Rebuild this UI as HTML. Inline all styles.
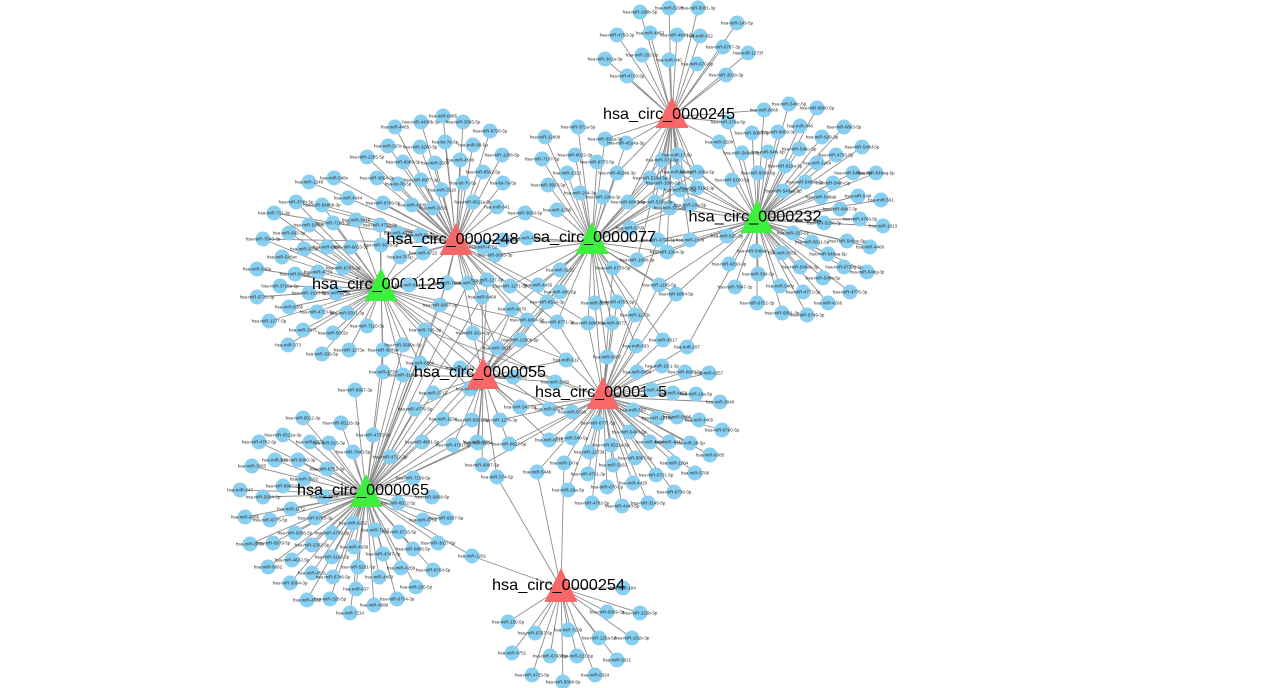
<!DOCTYPE html>
<html><head><meta charset="utf-8"><style>
html,body{margin:0;padding:0;background:#fff;width:1265px;height:688px;overflow:hidden}
svg{display:block}
.e{fill:none;stroke:#8c8c8c;stroke-width:0.9}
.n circle{fill:#89CFF0;r:7.5px}
.t text{font-family:"Liberation Sans",sans-serif;font-size:4.5px;fill:#2a2a2a;text-anchor:middle}
.h text{font-family:"Liberation Sans",sans-serif;font-size:16px;fill:#000;text-anchor:middle}
</style></head><body>
<svg width="1265" height="688" viewBox="0 0 1265 688" xmlns="http://www.w3.org/2000/svg">
<rect width="1265" height="688" fill="#fff"/>
<!-- edges -->
<path class="e" d="M672 117L640 12M672 117L669 8M672 117L698 8M672 117L737 23M672 117L617 35M672 117L650 33M672 117L677 35M672 117L700 36M672 117L723 47M672 117L748 53M672 117L642 55M672 117L669 60M672 117L697 64M672 117L605 59M672 117L627 76M672 117L726 75M672 117L662 160M672 117L650 178M672 117L663 183M672 117L677 172M672 117L697 172M672 117L697 188M672 117L680 190M672 117L690 205M672 117L670 208M672 117L655 202M672 117L628 202M672 117L677 155M672 117L626 143M672 117L605 139M672 117L617 173M672 117L658 240M672 117L690 240M672 117L667 252M672 117L637 260M672 117L728 122M672 117L719 142M672 117L764 110"/>
<path class="e" d="M757 220L764 110M757 220L789 104M757 220L817 108M757 220L728 122M757 220L752 133M757 220L778 132M757 220L800 126M757 220L844 127M757 220L719 142M757 220L822 137M757 220L742 153M757 220L768 152M757 220L799 149M757 220L836 155M757 220L862 147M757 220L785 166M757 220L817 163M757 220L758 173M757 220L732 180M757 220L805 182M757 220L833 183M757 220L853 173M757 220L876 173M757 220L783 191M757 220L821 197M757 220L858 196M757 220L881 200M757 220L840 209M757 220L824 223M757 220L860 219M757 220L883 226M757 220L793 233M757 220L727 236M757 220L812 242M757 220L847 241M757 220L870 247M757 220L756 251M757 220L782 253M757 220L828 254M757 220L729 264M757 220L800 267M757 220L844 267M757 220L867 272M757 220L823 278M757 220L758 274M757 220L735 287M757 220L780 286M757 220L803 292M757 220L850 292M757 220L757 303M757 220L828 303M757 220L782 313M757 220L807 315M757 220L677 155M757 220L663 183M757 220L677 172M757 220L697 172M757 220L697 188M757 220L680 190M757 220L690 205M757 220L670 208M757 220L658 240M757 220L690 240M757 220L667 252M757 220L637 260M757 220L659 285M757 220L676 294M757 220L687 347"/>
<path class="e" d="M592 242L578 127M592 242L545 137M592 242L605 139M592 242L626 143M592 242L575 155M592 242L542 159M592 242L597 162M592 242L567 173M592 242L617 173M592 242L548 185M592 242L525 213M592 242L557 210M592 242L527 238M592 242L560 270M592 242L560 292M592 242L538 285M592 242L510 286M592 242L595 303M592 242L617 302M592 242L547 302M592 242L588 323M592 242L612 323M592 242L557 322M592 242L635 315M592 242L580 193M592 242L603 197M592 242L628 202M592 242L655 202M592 242L630 228M592 242L658 240M592 242L690 240M592 242L667 252M592 242L637 260M592 242L613 268M592 242L659 285M592 242L676 294M592 242L662 160M592 242L650 178M592 242L663 183M592 242L697 172M592 242L680 190M592 242L690 205M592 242L670 208M592 242L677 155M592 242L503 240M592 242L495 255M592 242L520 340M592 242L607 357M592 242L636 346M592 242L663 340M592 242L512 309M592 242L527 320"/>
<path class="e" d="M456 243L443 116M456 243L395 127M456 243L421 122M456 243L463 122M456 243L490 131M456 243L445 142M456 243L473 145M456 243L388 146M456 243L420 147M456 243L367 157M456 243L403 162M456 243L435 163M456 243L460 160M456 243L502 155M456 243L483 172M456 243L463 183M456 243L503 183M456 243L309 182M456 243L334 178M456 243L377 178M456 243L398 184M456 243L421 180M456 243L442 190M456 243L473 202M456 243L497 207M456 243L296 202M456 243L322 205M456 243L348 198M456 243L383 203M456 243L412 205M456 243L433 208M456 243L356 220M456 243L380 225M456 243L398 233M456 243L420 235M456 243L495 255M456 243L483 247M456 243L503 240M456 243L423 253M456 243L400 257M456 243L447 283M456 243L468 283M456 243L487 280M456 243L482 297M456 243L512 309M456 243L440 305M456 243L525 213M456 243L527 238M456 243L510 286M456 243L538 285M456 243L409 285M456 243L557 322M456 243L588 323M456 243L566 360M456 243L473 333M456 243L497 348M456 243L274 213M456 243L263 239"/>
<path class="e" d="M381 288L274 213M381 288L309 225M381 288L333 223M381 288L289 233M381 288L263 239M381 288L304 249M381 288L327 247M381 288L351 247M381 288L381 245M381 288L282 257M381 288L257 269M381 288L295 274M381 288L318 272M381 288L343 268M381 288L280 286M381 288L257 297M381 288L309 293M381 288L336 293M381 288L289 307M381 288L317 312M381 288L347 313M381 288L269 321M381 288L367 326M381 288L303 330M381 288L333 333M381 288L288 345M381 288L349 350M381 288L322 354M381 288L383 350M381 288L403 345M381 288L425 330M381 288L409 285M381 288L420 363M381 288L383 372M381 288L403 375M381 288L356 220M381 288L380 225M381 288L423 253M381 288L400 257M381 288L447 283M381 288L468 283M381 288L440 305M381 288L470 389M381 288L527 320M381 288L566 360M381 288L555 382M381 288L549 409M381 288L520 407M381 288L296 202M381 288L322 205"/>
<path class="e" d="M483 377L473 333M483 377L520 340M483 377L497 348M483 377L513 377M483 377L520 407M483 377L500 420M483 377L472 420M483 377L478 443M483 377L509 444M483 377L482 465M483 377L497 477M483 377L433 393M483 377L443 419M483 377L470 389M483 377L415 409M483 377L460 368M483 377L555 382M483 377L566 360M483 377L572 412M483 377L549 440M483 377L383 350M483 377L420 363M483 377L403 375M483 377L487 280M483 377L482 297M483 377L512 309M483 377L527 320M483 377L547 302M483 377L560 292M483 377L557 322M483 377L453 445M483 377L477 442"/>
<path class="e" d="M603 397L607 357M603 397L636 346M603 397L663 340M603 397L687 347M603 397L637 372M603 397L662 366M603 397L685 372M603 397L709 373M603 397L652 390M603 397L673 393M603 397L696 394M603 397L720 402M603 397L549 409M603 397L572 412M603 397L633 410M603 397L657 418M603 397L677 417M603 397L699 420M603 397L722 430M603 397L598 423M603 397L629 432M603 397L650 442M603 397L669 442M603 397L690 443M603 397L710 455M603 397L549 440M603 397L572 438M603 397L611 445M603 397L589 452M603 397L635 458M603 397L674 463M603 397L564 463M603 397L537 472M603 397L613 465M603 397L656 475M603 397L695 473M603 397L588 474M603 397L633 483M603 397L607 487M603 397L568 490M603 397L674 492M603 397L592 503M603 397L622 506M603 397L648 503M603 397L566 360M603 397L555 382M603 397L520 407M603 397L500 420M603 397L509 444M603 397L482 465M603 397L595 303M603 397L617 302M603 397L588 323M603 397L612 323M603 397L557 322M603 397L635 315M603 397L613 268M603 397L659 285M603 397L676 294M603 397L658 240M603 397L425 330"/>
<path class="e" d="M366 494L355 390M366 494L303 418M366 494L341 423M366 494L283 435M366 494L259 442M366 494L310 442M366 494L329 443M366 494L373 435M366 494L422 442M366 494L453 445M366 494L353 452M366 494L252 466M366 494L275 460M366 494L298 460M366 494L390 457M366 494L327 469M366 494L304 479M366 494L413 478M366 494L283 486M366 494L240 490M366 494L263 497M366 494L324 497M366 494L398 503M366 494L432 497M366 494L291 509M366 494L245 517M366 494L270 520M366 494L315 518M366 494L353 523M366 494L423 520M366 494L446 518M366 494L295 533M366 494L332 533M366 494L375 530M366 494L399 532M366 494L250 544M366 494L273 543M366 494L312 545M366 494L354 547M366 494L383 554M366 494L413 549M366 494L438 543M366 494L472 556M366 494L292 560M366 494L332 557M366 494L268 567M366 494L312 573M366 494L358 567M366 494L401 568M366 494L433 570M366 494L290 583M366 494L333 577M366 494L379 577M366 494L416 587M366 494L356 589M366 494L307 600M366 494L330 599M366 494L397 599M366 494L374 605M366 494L350 613M366 494L415 409M366 494L477 442M366 494L425 330M366 494L403 345M366 494L420 363M366 494L383 372M366 494L403 375M366 494L433 393M366 494L443 419M366 494L472 420M366 494L478 443M366 494L440 305M366 494L447 283M366 494L468 283M366 494L527 320M366 494L512 309M366 494L482 297M366 494L383 350"/>
<path class="e" d="M561 588L472 556M561 588L623 588M561 588L607 612M561 588L640 613M561 588L508 622M561 588L535 633M561 588L568 630M561 588L599 638M561 588L632 638M561 588L512 653M561 588L550 656M561 588L577 656M561 588L617 660M561 588L532 675M561 588L563 682M561 588L595 675M561 588L497 477M561 588L537 472M561 588L564 463"/>

<!-- nodes -->
<g class="n">
<circle cx="640" cy="12" r="7"/><circle cx="669" cy="8" r="7"/><circle cx="698" cy="8" r="7"/><circle cx="737" cy="23" r="7"/><circle cx="617" cy="35" r="7"/><circle cx="650" cy="33" r="7"/><circle cx="677" cy="35" r="7"/><circle cx="700" cy="36" r="7"/><circle cx="723" cy="47" r="7"/><circle cx="748" cy="53" r="7"/><circle cx="642" cy="55" r="7"/><circle cx="669" cy="60" r="7"/><circle cx="697" cy="64" r="7"/><circle cx="605" cy="59" r="7"/><circle cx="627" cy="76" r="7"/><circle cx="726" cy="75" r="7"/>
<circle cx="677" cy="155" r="7"/><circle cx="662" cy="160" r="7"/><circle cx="650" cy="178" r="7"/><circle cx="663" cy="183" r="7"/><circle cx="677" cy="172" r="7"/><circle cx="697" cy="172" r="7"/><circle cx="697" cy="188" r="7"/><circle cx="680" cy="190" r="7"/><circle cx="690" cy="205" r="7"/><circle cx="670" cy="208" r="7"/><circle cx="655" cy="202" r="7"/><circle cx="628" cy="202" r="7"/><circle cx="603" cy="197" r="7"/><circle cx="580" cy="193" r="7"/><circle cx="658" cy="240" r="7"/><circle cx="690" cy="240" r="7"/><circle cx="667" cy="252" r="7"/><circle cx="637" cy="260" r="7"/><circle cx="630" cy="228" r="7"/><circle cx="613" cy="268" r="7"/><circle cx="676" cy="294" r="7"/><circle cx="659" cy="285" r="7"/>
<circle cx="764" cy="110" r="7"/><circle cx="789" cy="104" r="7"/><circle cx="817" cy="108" r="7"/><circle cx="728" cy="122" r="7"/><circle cx="752" cy="133" r="7"/><circle cx="778" cy="132" r="7"/><circle cx="800" cy="126" r="7"/><circle cx="844" cy="127" r="7"/><circle cx="719" cy="142" r="7"/><circle cx="822" cy="137" r="7"/><circle cx="742" cy="153" r="7"/><circle cx="768" cy="152" r="7"/><circle cx="799" cy="149" r="7"/><circle cx="836" cy="155" r="7"/><circle cx="862" cy="147" r="7"/><circle cx="785" cy="166" r="7"/><circle cx="817" cy="163" r="7"/><circle cx="758" cy="173" r="7"/><circle cx="732" cy="180" r="7"/><circle cx="805" cy="182" r="7"/><circle cx="833" cy="183" r="7"/><circle cx="853" cy="173" r="7"/><circle cx="876" cy="173" r="7"/><circle cx="783" cy="191" r="7"/><circle cx="821" cy="197" r="7"/><circle cx="858" cy="196" r="7"/><circle cx="881" cy="200" r="7"/><circle cx="840" cy="209" r="7"/><circle cx="824" cy="223" r="7"/><circle cx="860" cy="219" r="7"/><circle cx="883" cy="226" r="7"/><circle cx="793" cy="233" r="7"/><circle cx="727" cy="236" r="7"/><circle cx="812" cy="242" r="7"/><circle cx="847" cy="241" r="7"/><circle cx="870" cy="247" r="7"/><circle cx="756" cy="251" r="7"/><circle cx="782" cy="253" r="7"/><circle cx="828" cy="254" r="7"/><circle cx="729" cy="264" r="7"/><circle cx="800" cy="267" r="7"/><circle cx="844" cy="267" r="7"/><circle cx="867" cy="272" r="7"/><circle cx="823" cy="278" r="7"/><circle cx="758" cy="274" r="7"/><circle cx="735" cy="287" r="7"/><circle cx="780" cy="286" r="7"/><circle cx="803" cy="292" r="7"/><circle cx="850" cy="292" r="7"/><circle cx="757" cy="303" r="7"/><circle cx="828" cy="303" r="7"/><circle cx="782" cy="313" r="7"/><circle cx="807" cy="315" r="7"/>
<circle cx="578" cy="127" r="7"/><circle cx="545" cy="137" r="7"/><circle cx="605" cy="139" r="7"/><circle cx="626" cy="143" r="7"/><circle cx="575" cy="155" r="7"/><circle cx="542" cy="159" r="7"/><circle cx="597" cy="162" r="7"/><circle cx="567" cy="173" r="7"/><circle cx="617" cy="173" r="7"/><circle cx="548" cy="185" r="7"/><circle cx="525" cy="213" r="7"/><circle cx="557" cy="210" r="7"/><circle cx="560" cy="270" r="7"/><circle cx="560" cy="292" r="7"/><circle cx="538" cy="285" r="7"/><circle cx="510" cy="286" r="7"/><circle cx="595" cy="303" r="7"/><circle cx="617" cy="302" r="7"/><circle cx="547" cy="302" r="7"/><circle cx="588" cy="323" r="7"/><circle cx="612" cy="323" r="7"/><circle cx="557" cy="322" r="7"/><circle cx="635" cy="315" r="7"/><circle cx="527" cy="320" r="7"/>
<circle cx="443" cy="116" r="7"/><circle cx="395" cy="127" r="7"/><circle cx="421" cy="122" r="7"/><circle cx="463" cy="122" r="7"/><circle cx="490" cy="131" r="7"/><circle cx="445" cy="142" r="7"/><circle cx="473" cy="145" r="7"/><circle cx="388" cy="146" r="7"/><circle cx="420" cy="147" r="7"/><circle cx="367" cy="157" r="7"/><circle cx="403" cy="162" r="7"/><circle cx="435" cy="163" r="7"/><circle cx="460" cy="160" r="7"/><circle cx="502" cy="155" r="7"/><circle cx="483" cy="172" r="7"/><circle cx="463" cy="183" r="7"/><circle cx="503" cy="183" r="7"/><circle cx="309" cy="182" r="7"/><circle cx="334" cy="178" r="7"/><circle cx="377" cy="178" r="7"/><circle cx="398" cy="184" r="7"/><circle cx="421" cy="180" r="7"/><circle cx="442" cy="190" r="7"/><circle cx="473" cy="202" r="7"/><circle cx="497" cy="207" r="7"/><circle cx="296" cy="202" r="7"/><circle cx="322" cy="205" r="7"/><circle cx="348" cy="198" r="7"/><circle cx="383" cy="203" r="7"/><circle cx="412" cy="205" r="7"/><circle cx="433" cy="208" r="7"/><circle cx="356" cy="220" r="7"/><circle cx="380" cy="225" r="7"/><circle cx="398" cy="233" r="7"/><circle cx="420" cy="235" r="7"/><circle cx="495" cy="255" r="7"/><circle cx="483" cy="247" r="7"/><circle cx="503" cy="240" r="7"/><circle cx="423" cy="253" r="7"/><circle cx="400" cy="257" r="7"/><circle cx="447" cy="283" r="7"/><circle cx="468" cy="283" r="7"/><circle cx="487" cy="280" r="7"/><circle cx="482" cy="297" r="7"/><circle cx="512" cy="309" r="7"/><circle cx="440" cy="305" r="7"/>
<circle cx="274" cy="213" r="7"/><circle cx="309" cy="225" r="7"/><circle cx="333" cy="223" r="7"/><circle cx="289" cy="233" r="7"/><circle cx="263" cy="239" r="7"/><circle cx="304" cy="249" r="7"/><circle cx="327" cy="247" r="7"/><circle cx="351" cy="247" r="7"/><circle cx="381" cy="245" r="7"/><circle cx="282" cy="257" r="7"/><circle cx="257" cy="269" r="7"/><circle cx="295" cy="274" r="7"/><circle cx="318" cy="272" r="7"/><circle cx="343" cy="268" r="7"/><circle cx="280" cy="286" r="7"/><circle cx="257" cy="297" r="7"/><circle cx="309" cy="293" r="7"/><circle cx="336" cy="293" r="7"/><circle cx="289" cy="307" r="7"/><circle cx="317" cy="312" r="7"/><circle cx="347" cy="313" r="7"/><circle cx="269" cy="321" r="7"/><circle cx="367" cy="326" r="7"/><circle cx="303" cy="330" r="7"/><circle cx="333" cy="333" r="7"/><circle cx="288" cy="345" r="7"/><circle cx="349" cy="350" r="7"/><circle cx="322" cy="354" r="7"/><circle cx="383" cy="350" r="7"/><circle cx="403" cy="345" r="7"/><circle cx="425" cy="330" r="7"/><circle cx="420" cy="363" r="7"/><circle cx="383" cy="372" r="7"/><circle cx="403" cy="375" r="7"/><circle cx="460" cy="368" r="7"/>
<circle cx="473" cy="333" r="7"/><circle cx="520" cy="340" r="7"/><circle cx="497" cy="348" r="7"/><circle cx="513" cy="377" r="7"/><circle cx="520" cy="407" r="7"/><circle cx="500" cy="420" r="7"/><circle cx="472" cy="420" r="7"/><circle cx="478" cy="443" r="7"/><circle cx="509" cy="444" r="7"/><circle cx="482" cy="465" r="7"/><circle cx="497" cy="477" r="7"/><circle cx="433" cy="393" r="7"/><circle cx="443" cy="419" r="7"/><circle cx="470" cy="389" r="7"/><circle cx="415" cy="409" r="7"/><circle cx="555" cy="382" r="7"/><circle cx="566" cy="360" r="7"/><circle cx="453" cy="445" r="7"/><circle cx="477" cy="442" r="7"/>
<circle cx="607" cy="357" r="7"/><circle cx="636" cy="346" r="7"/><circle cx="663" cy="340" r="7"/><circle cx="687" cy="347" r="7"/><circle cx="637" cy="372" r="7"/><circle cx="662" cy="366" r="7"/><circle cx="685" cy="372" r="7"/><circle cx="709" cy="373" r="7"/><circle cx="673" cy="393" r="7"/><circle cx="696" cy="394" r="7"/><circle cx="720" cy="402" r="7"/><circle cx="549" cy="409" r="7"/><circle cx="572" cy="412" r="7"/><circle cx="633" cy="410" r="7"/><circle cx="657" cy="418" r="7"/><circle cx="677" cy="417" r="7"/><circle cx="699" cy="420" r="7"/><circle cx="722" cy="430" r="7"/><circle cx="598" cy="423" r="7"/><circle cx="629" cy="432" r="7"/><circle cx="650" cy="442" r="7"/><circle cx="669" cy="442" r="7"/><circle cx="690" cy="443" r="7"/><circle cx="710" cy="455" r="7"/><circle cx="549" cy="440" r="7"/><circle cx="572" cy="438" r="7"/><circle cx="611" cy="445" r="7"/><circle cx="589" cy="452" r="7"/><circle cx="635" cy="458" r="7"/><circle cx="674" cy="463" r="7"/><circle cx="564" cy="463" r="7"/><circle cx="537" cy="472" r="7"/><circle cx="613" cy="465" r="7"/><circle cx="656" cy="475" r="7"/><circle cx="695" cy="473" r="7"/><circle cx="588" cy="474" r="7"/><circle cx="633" cy="483" r="7"/><circle cx="607" cy="487" r="7"/><circle cx="568" cy="490" r="7"/><circle cx="674" cy="492" r="7"/><circle cx="592" cy="503" r="7"/><circle cx="622" cy="506" r="7"/><circle cx="648" cy="503" r="7"/>
<circle cx="355" cy="390" r="7"/><circle cx="303" cy="418" r="7"/><circle cx="341" cy="423" r="7"/><circle cx="283" cy="435" r="7"/><circle cx="259" cy="442" r="7"/><circle cx="310" cy="442" r="7"/><circle cx="329" cy="443" r="7"/><circle cx="373" cy="435" r="7"/><circle cx="422" cy="442" r="7"/><circle cx="353" cy="452" r="7"/><circle cx="252" cy="466" r="7"/><circle cx="275" cy="460" r="7"/><circle cx="298" cy="460" r="7"/><circle cx="390" cy="457" r="7"/><circle cx="327" cy="469" r="7"/><circle cx="304" cy="479" r="7"/><circle cx="413" cy="478" r="7"/><circle cx="283" cy="486" r="7"/><circle cx="240" cy="490" r="7"/><circle cx="263" cy="497" r="7"/><circle cx="324" cy="497" r="7"/><circle cx="398" cy="503" r="7"/><circle cx="432" cy="497" r="7"/><circle cx="291" cy="509" r="7"/><circle cx="245" cy="517" r="7"/><circle cx="270" cy="520" r="7"/><circle cx="315" cy="518" r="7"/><circle cx="353" cy="523" r="7"/><circle cx="423" cy="520" r="7"/><circle cx="446" cy="518" r="7"/><circle cx="295" cy="533" r="7"/><circle cx="332" cy="533" r="7"/><circle cx="375" cy="530" r="7"/><circle cx="399" cy="532" r="7"/><circle cx="250" cy="544" r="7"/><circle cx="273" cy="543" r="7"/><circle cx="312" cy="545" r="7"/><circle cx="354" cy="547" r="7"/><circle cx="383" cy="554" r="7"/><circle cx="413" cy="549" r="7"/><circle cx="438" cy="543" r="7"/><circle cx="472" cy="556" r="7"/><circle cx="292" cy="560" r="7"/><circle cx="332" cy="557" r="7"/><circle cx="268" cy="567" r="7"/><circle cx="312" cy="573" r="7"/><circle cx="358" cy="567" r="7"/><circle cx="401" cy="568" r="7"/><circle cx="433" cy="570" r="7"/><circle cx="290" cy="583" r="7"/><circle cx="333" cy="577" r="7"/><circle cx="379" cy="577" r="7"/><circle cx="416" cy="587" r="7"/><circle cx="356" cy="589" r="7"/><circle cx="307" cy="600" r="7"/><circle cx="330" cy="599" r="7"/><circle cx="397" cy="599" r="7"/><circle cx="374" cy="605" r="7"/><circle cx="350" cy="613" r="7"/>
<circle cx="623" cy="588" r="7"/><circle cx="607" cy="612" r="7"/><circle cx="640" cy="613" r="7"/><circle cx="508" cy="622" r="7"/><circle cx="535" cy="633" r="7"/><circle cx="568" cy="630" r="7"/><circle cx="599" cy="638" r="7"/><circle cx="632" cy="638" r="7"/><circle cx="512" cy="653" r="7"/><circle cx="550" cy="656" r="7"/><circle cx="577" cy="656" r="7"/><circle cx="617" cy="660" r="7"/><circle cx="532" cy="675" r="7"/><circle cx="563" cy="682" r="7"/><circle cx="595" cy="675" r="7"/>
</g>
<g class="t">
<text x="640" y="13.6">hsa-miR-190b-5p</text><text x="669" y="9.6">hsa-miR-5193</text><text x="698" y="9.6">hsa-miR-5001-3p</text><text x="737" y="24.6">hsa-miR-143-5p</text><text x="617" y="36.6">hsa-miR-4753-3p</text><text x="650" y="34.6">hsa-miR-4453</text><text x="677" y="36.6">hsa-miR-4646-5p</text><text x="700" y="37.6">hsa-miR-552</text><text x="723" y="48.6">hsa-miR-6787-3p</text><text x="748" y="54.6">hsa-miR-1273f</text><text x="642" y="56.6">hsa-miR-202-5p</text><text x="669" y="61.6">hsa-miR-940</text><text x="697" y="65.6">hsa-miR-670-5p</text><text x="605" y="60.6">hsa-miR-301a-3p</text><text x="627" y="77.6">hsa-miR-4720-5p</text><text x="726" y="76.6">hsa-miR-301b-3p</text>
<text x="677" y="156.6">hsa-miR-17-5p</text><text x="662" y="161.6">hsa-miR-372-3p</text><text x="650" y="179.6">hsa-miR-520d-5p</text><text x="663" y="184.6">hsa-miR-106b-5p</text><text x="677" y="173.6">hsa-miR-93-5p</text><text x="697" y="173.6">hsa-miR-106a-5p</text><text x="697" y="189.6">hsa-miR-519d-3p</text><text x="680" y="191.6">hsa-miR-20b-5p</text><text x="690" y="206.6">hsa-miR-20a-5p</text><text x="670" y="209.6">hsa-miR-373-3p</text><text x="655" y="203.6">hsa-miR-526b-3p</text><text x="628" y="203.6">hsa-miR-6849-3p</text><text x="603" y="198.6">hsa-miR-196a-3p</text><text x="580" y="194.6">hsa-miR-204-3p</text><text x="658" y="241.6">hsa-miR-4728-5p</text><text x="690" y="241.6">hsa-miR-2276</text><text x="667" y="253.6">hsa-miR-1304-3p</text><text x="637" y="261.6">hsa-miR-1908-3p</text><text x="630" y="229.6">hsa-miR-6799</text><text x="613" y="269.6">hsa-miR-6779-5p</text><text x="676" y="295.6">hsa-miR-6884-5p</text><text x="659" y="286.6">hsa-miR-1185-5p</text>
<text x="764" y="111.6">hsa-miR-8068</text><text x="789" y="105.6">hsa-miR-548c-5p</text><text x="817" y="109.6">hsa-miR-6880-5p</text><text x="728" y="123.6">hsa-miR-378a-5p</text><text x="752" y="134.6">hsa-miR-5088-3p</text><text x="778" y="133.6">hsa-miR-6809-3p</text><text x="800" y="127.6">hsa-miR-346</text><text x="844" y="128.6">hsa-miR-6863-5p</text><text x="719" y="143.6">hsa-miR-520h</text><text x="822" y="138.6">hsa-miR-629-3p</text><text x="742" y="154.6">hsa-miR-548ah-5p</text><text x="768" y="153.6">hsa-miR-548j-5p</text><text x="799" y="150.6">hsa-miR-548o-5p</text><text x="836" y="156.6">hsa-miR-4755-5p</text><text x="862" y="148.6">hsa-miR-548d-5p</text><text x="785" y="167.6">hsa-miR-519a-5p</text><text x="817" y="164.6">hsa-miR-1264</text><text x="758" y="174.6">hsa-miR-5008-5p</text><text x="732" y="181.6">hsa-miR-5180-5p</text><text x="805" y="183.6">hsa-miR-548av-5p</text><text x="833" y="184.6">hsa-miR-548n-5p</text><text x="853" y="174.6">hsa-miR-548au-5p</text><text x="876" y="174.6">hsa-miR-548aq-5p</text><text x="783" y="192.6">hsa-miR-548ae-5p</text><text x="821" y="198.6">hsa-miR-548ab</text><text x="858" y="197.6">hsa-miR-548i</text><text x="881" y="201.6">hsa-miR-591</text><text x="840" y="210.6">hsa-miR-6887-3p</text><text x="824" y="224.6">hsa-miR-5200-3p</text><text x="860" y="220.6">hsa-miR-4766-5p</text><text x="883" y="227.6">hsa-miR-1913</text><text x="793" y="234.6">hsa-miR-323-5p</text><text x="727" y="237.6">hsa-miR-525-3p</text><text x="812" y="243.6">hsa-miR-5011-5p</text><text x="847" y="242.6">hsa-miR-548ay-5p</text><text x="870" y="248.6">hsa-miR-4460</text><text x="756" y="252.6">hsa-miR-548am-3p</text><text x="782" y="254.6">hsa-miR-3653</text><text x="828" y="255.6">hsa-miR-548aa-5p</text><text x="729" y="265.6">hsa-miR-6810-3p</text><text x="800" y="268.6">hsa-miR-548as-3p</text><text x="844" y="268.6">hsa-miR-8739g-5p</text><text x="867" y="273.6">hsa-miR-548g-3p</text><text x="823" y="279.6">hsa-miR-548e-5p</text><text x="758" y="275.6">hsa-miR-504-3p</text><text x="735" y="288.6">hsa-miR-7847-3p</text><text x="780" y="287.6">hsa-miR-548y</text><text x="803" y="293.6">hsa-miR-4772-5p</text><text x="850" y="293.6">hsa-miR-4776-3p</text><text x="757" y="304.6">hsa-miR-6752-3p</text><text x="828" y="304.6">hsa-miR-4266</text><text x="782" y="314.6">hsa-miR-6801-3p</text><text x="807" y="316.6">hsa-miR-6749-3p</text>
<text x="578" y="128.6">hsa-miR-371a-5p</text><text x="545" y="138.6">hsa-miR-1280b</text><text x="605" y="140.6">hsa-miR-891a-3p</text><text x="626" y="144.6">hsa-miR-4524a-3p</text><text x="575" y="156.6">hsa-miR-8022-3p</text><text x="542" y="160.6">hsa-miR-7107-5p</text><text x="597" y="163.6">hsa-miR-6773-5p</text><text x="567" y="174.6">hsa-miR-1323</text><text x="617" y="174.6">hsa-miR-4524b-3p</text><text x="548" y="186.6">hsa-miR-3923-3p</text><text x="525" y="214.6">hsa-miR-3658-5p</text><text x="557" y="211.6">hsa-miR-1206</text><text x="560" y="271.6">hsa-miR-3131</text><text x="560" y="293.6">hsa-miR-485-5p</text><text x="538" y="286.6">hsa-miR-4435</text><text x="510" y="287.6">hsa-miR-1271-5p</text><text x="595" y="304.6">hsa-miR-3135</text><text x="617" y="303.6">hsa-miR-4705-5p</text><text x="547" y="303.6">hsa-miR-6534-3p</text><text x="588" y="324.6">hsa-miR-6880-3p</text><text x="612" y="324.6">hsa-miR-8077</text><text x="557" y="323.6">hsa-miR-6771-3p</text><text x="635" y="316.6">hsa-miR-1273c</text><text x="527" y="321.6">hsa-miR-6804-5p</text>
<text x="443" y="117.6">hsa-miR-8485</text><text x="395" y="128.6">hsa-miR-4465</text><text x="421" y="123.6">hsa-miR-4436b-3p</text><text x="463" y="123.6">hsa-miR-3065-5p</text><text x="490" y="132.6">hsa-miR-6726-5p</text><text x="445" y="143.6">hsa-let-7e-5p</text><text x="473" y="146.6">hsa-miR-98-5p</text><text x="388" y="147.6">hsa-miR-323c</text><text x="420" y="148.6">hsa-miR-3200-5p</text><text x="367" y="158.6">hsa-miR-1285-5p</text><text x="403" y="163.6">hsa-miR-6089-3p</text><text x="435" y="164.6">hsa-miR-3200</text><text x="460" y="161.6">hsa-miR-4500</text><text x="502" y="156.6">hsa-miR-1206-5p</text><text x="483" y="173.6">hsa-miR-8592-5p</text><text x="463" y="184.6">hsa-let-7c-5p</text><text x="503" y="184.6">hsa-let-7a-5p</text><text x="309" y="183.6">hsa-miR-1246</text><text x="334" y="179.6">hsa-miR-548s</text><text x="377" y="179.6">hsa-miR-3664-3p</text><text x="398" y="185.6">hsa-let-7b-5p</text><text x="421" y="181.6">hsa-miR-6877-3p</text><text x="442" y="191.6">hsa-miR-3116</text><text x="473" y="203.6">hsa-miR-6511a-5p</text><text x="497" y="208.6">hsa-miR-641</text><text x="296" y="203.6">hsa-miR-374b-5p</text><text x="322" y="206.6">hsa-miR-548bb-3p</text><text x="348" y="199.6">hsa-miR-4644</text><text x="383" y="204.6">hsa-miR-6799-5p</text><text x="412" y="206.6">hsa-miR-4800</text><text x="433" y="209.6">hsa-miR-3201</text><text x="356" y="221.6">hsa-miR-3919</text><text x="380" y="226.6">hsa-miR-4732-3p</text><text x="398" y="234.6">hsa-miR-4420</text><text x="420" y="236.6">hsa-miR-6124</text><text x="495" y="256.6">hsa-miR-3065-3p</text><text x="483" y="248.6">hsa-miR-4782</text><text x="503" y="241.6">hsa-miR-6850</text><text x="423" y="254.6">hsa-miR-4722</text><text x="400" y="258.6">hsa-let-7f-5p</text><text x="447" y="284.6">hsa-miR-7106</text><text x="468" y="284.6">hsa-miR-3700</text><text x="487" y="281.6">hsa-miR-127-3p</text><text x="482" y="298.6">hsa-miR-6468</text><text x="512" y="310.6">hsa-miR-4670</text><text x="440" y="306.6">hsa-miR-6807-3p</text>
<text x="274" y="214.6">hsa-miR-711-3p</text><text x="309" y="226.6">hsa-miR-548an</text><text x="333" y="224.6">hsa-miR-7108-3p</text><text x="289" y="234.6">hsa-miR-663-3p</text><text x="263" y="240.6">hsa-miR-7843-3p</text><text x="304" y="250.6">hsa-miR-203a</text><text x="327" y="248.6">hsa-miR-6881</text><text x="351" y="248.6">hsa-miR-6813-3p</text><text x="381" y="246.6">hsa-miR-3679-5p</text><text x="282" y="258.6">hsa-miR-548ac</text><text x="257" y="270.6">hsa-miR-548a</text><text x="295" y="275.6">hsa-miR-548aq</text><text x="318" y="273.6">hsa-miR-4723</text><text x="343" y="269.6">hsa-miR-6763-3p</text><text x="280" y="287.6">hsa-miR-3718a-5p</text><text x="257" y="298.6">hsa-miR-6732-3p</text><text x="309" y="294.6">hsa-miR-1913-3p</text><text x="336" y="294.6">hsa-miR-6796</text><text x="289" y="308.6">hsa-miR-8085</text><text x="317" y="313.6">hsa-miR-4723-5p</text><text x="347" y="314.6">hsa-miR-5011-3p</text><text x="269" y="322.6">hsa-miR-1277-5p</text><text x="367" y="327.6">hsa-miR-7110-3p</text><text x="303" y="331.6">hsa-miR-3971</text><text x="333" y="334.6">hsa-miR-5002c</text><text x="288" y="346.6">hsa-miR-373</text><text x="349" y="351.6">hsa-miR-1273a</text><text x="322" y="355.6">hsa-miR-339-5p</text><text x="383" y="351.6">hsa-miR-3689a</text><text x="403" y="346.6">hsa-miR-3689c-5p</text><text x="425" y="331.6">hsa-miR-766-3p</text><text x="420" y="364.6">hsa-miR-6886</text><text x="383" y="373.6">hsa-miR-4730</text><text x="403" y="376.6">hsa-miR-3150a</text><text x="460" y="369.6">hsa-miR-4773</text>
<text x="473" y="334.6">hsa-miR-3614-3p</text><text x="520" y="341.6">hsa-miR-1260b-5p</text><text x="497" y="349.6">hsa-miR-3515</text><text x="513" y="378.6">hsa-miR-4640</text><text x="520" y="408.6">hsa-miR-342-3p</text><text x="500" y="421.6">hsa-miR-1276-3p</text><text x="472" y="421.6">hsa-miR-5681-5p</text><text x="478" y="444.6">hsa-miR-1254</text><text x="509" y="445.6">hsa-miR-6827-5p</text><text x="482" y="466.6">hsa-miR-6887-5p</text><text x="497" y="478.6">hsa-miR-574-5p</text><text x="433" y="394.6">hsa-miR-3713</text><text x="443" y="420.6">hsa-miR-1234</text><text x="470" y="390.6">hsa-miR-6797</text><text x="415" y="410.6">hsa-miR-4776-5p</text><text x="555" y="383.6">hsa-miR-3150</text><text x="566" y="361.6">hsa-miR-612</text><text x="453" y="446.6">hsa-miR-4791-3p</text><text x="477" y="443.6">hsa-miR-4681</text>
<text x="607" y="358.6">hsa-miR-8087</text><text x="636" y="347.6">hsa-miR-633</text><text x="663" y="341.6">hsa-miR-4517</text><text x="687" y="348.6">hsa-miR-297</text><text x="637" y="373.6">hsa-miR-6894</text><text x="662" y="367.6">hsa-miR-16-1-3p</text><text x="685" y="373.6">hsa-miR-6805-5p</text><text x="709" y="374.6">hsa-miR-6257</text><text x="673" y="394.6">hsa-miR-4459</text><text x="696" y="395.6">hsa-miR-18a-5p</text><text x="720" y="403.6">hsa-miR-3648</text><text x="549" y="410.6">hsa-miR-6824</text><text x="572" y="413.6">hsa-miR-5690</text><text x="633" y="411.6">hsa-miR-562</text><text x="657" y="419.6">hsa-miR-1273h</text><text x="677" y="418.6">hsa-miR-5695</text><text x="699" y="421.6">hsa-miR-4465</text><text x="722" y="431.6">hsa-miR-6760-5p</text><text x="598" y="424.6">hsa-miR-6771-5p</text><text x="629" y="433.6">hsa-miR-5480-5p</text><text x="650" y="443.6">hsa-miR-4494</text><text x="669" y="443.6">hsa-miR-4441</text><text x="690" y="444.6">hsa-miR-28-5p</text><text x="710" y="456.6">hsa-miR-8085</text><text x="549" y="441.6">hsa-miR-6816</text><text x="572" y="439.6">hsa-miR-548-5p</text><text x="611" y="446.6">hsa-miR-6511a-5p</text><text x="589" y="453.6">hsa-miR-1273d</text><text x="635" y="459.6">hsa-miR-5087-6p</text><text x="674" y="464.6">hsa-miR-1204</text><text x="564" y="464.6">hsa-miR-147a</text><text x="537" y="473.6">hsa-miR-544b</text><text x="613" y="466.6">hsa-miR-3163</text><text x="656" y="476.6">hsa-miR-6721-5p</text><text x="695" y="474.6">hsa-miR-5706</text><text x="588" y="475.6">hsa-miR-4751-3p</text><text x="633" y="484.6">hsa-miR-4420</text><text x="607" y="488.6">hsa-miR-670-5p</text><text x="568" y="491.6">hsa-miR-28a-5p</text><text x="674" y="493.6">hsa-miR-6739-3p</text><text x="592" y="504.6">hsa-miR-4782-5p</text><text x="622" y="507.6">hsa-miR-4440-5p</text><text x="648" y="504.6">hsa-miR-3145-5p</text>
<text x="355" y="391.6">hsa-miR-6867-3p</text><text x="303" y="419.6">hsa-miR-6512-3p</text><text x="341" y="424.6">hsa-miR-6511b-3p</text><text x="283" y="436.6">hsa-miR-6511a-3p</text><text x="259" y="443.6">hsa-miR-4782-5p</text><text x="310" y="443.6">hsa-miR-6836</text><text x="329" y="444.6">hsa-miR-515-3p</text><text x="373" y="436.6">hsa-miR-4733-5p</text><text x="422" y="443.6">hsa-miR-4681-5p</text><text x="353" y="453.6">hsa-miR-7843-5p</text><text x="252" y="467.6">hsa-miR-3683</text><text x="275" y="461.6">hsa-miR-215</text><text x="298" y="461.6">hsa-miR-5080-3p</text><text x="390" y="458.6">hsa-miR-4722-3p</text><text x="327" y="470.6">hsa-miR-6752-3p</text><text x="304" y="480.6">hsa-miR-3662</text><text x="413" y="479.6">hsa-miR-7159-5p</text><text x="283" y="487.6">hsa-miR-6887-5p</text><text x="240" y="491.6">hsa-miR-647</text><text x="263" y="498.6">hsa-miR-5004-5p</text><text x="324" y="498.6">hsa-miR-3924</text><text x="398" y="504.6">hsa-miR-6812-5p</text><text x="432" y="498.6">hsa-miR-6868-5p</text><text x="291" y="510.6">hsa-miR-1172</text><text x="245" y="518.6">hsa-miR-9085</text><text x="270" y="521.6">hsa-miR-6775-5p</text><text x="315" y="519.6">hsa-miR-6793-3p</text><text x="353" y="524.6">hsa-miR-6262</text><text x="423" y="521.6">hsa-miR-6750</text><text x="446" y="519.6">hsa-miR-6837-5p</text><text x="295" y="534.6">hsa-miR-5006-5p</text><text x="332" y="534.6">hsa-miR-4759-3p</text><text x="375" y="531.6">hsa-miR-7162</text><text x="399" y="533.6">hsa-miR-6716-5p</text><text x="250" y="545.6">hsa-miR-6799</text><text x="273" y="544.6">hsa-miR-6879-5p</text><text x="312" y="546.6">hsa-miR-2392-5p</text><text x="354" y="548.6">hsa-miR-4638</text><text x="383" y="555.6">hsa-miR-4747-3p</text><text x="413" y="550.6">hsa-miR-6895-5p</text><text x="438" y="544.6">hsa-miR-3617-5p</text><text x="472" y="557.6">hsa-miR-1291</text><text x="292" y="561.6">hsa-miR-4632-5p</text><text x="332" y="558.6">hsa-miR-3188-5p</text><text x="268" y="568.6">hsa-miR-6892</text><text x="312" y="574.6">hsa-miR-4531</text><text x="358" y="568.6">hsa-miR-5201-5p</text><text x="401" y="569.6">hsa-miR-4268</text><text x="433" y="571.6">hsa-miR-6764-5p</text><text x="290" y="584.6">hsa-miR-3064-3p</text><text x="333" y="578.6">hsa-miR-6746-5p</text><text x="379" y="578.6">hsa-miR-4459</text><text x="416" y="588.6">hsa-miR-105-5p</text><text x="356" y="590.6">hsa-miR-637</text><text x="307" y="601.6">hsa-miR-4632</text><text x="330" y="600.6">hsa-miR-328-5p</text><text x="397" y="600.6">hsa-miR-6734-3p</text><text x="374" y="606.6">hsa-miR-4699</text><text x="350" y="614.6">hsa-miR-7114</text>
<text x="623" y="589.6">hsa-miR-184</text><text x="607" y="613.6">hsa-miR-6859-3p</text><text x="640" y="614.6">hsa-miR-125b-5p</text><text x="508" y="623.6">hsa-miR-150-5p</text><text x="535" y="634.6">hsa-miR-6767-5p</text><text x="568" y="631.6">hsa-miR-7109</text><text x="599" y="639.6">hsa-miR-125a-5p</text><text x="632" y="639.6">hsa-miR-181b-3p</text><text x="512" y="654.6">hsa-miR-4751</text><text x="550" y="657.6">hsa-miR-6743-5p</text><text x="577" y="657.6">hsa-miR-223-5p</text><text x="617" y="661.6">hsa-miR-3621</text><text x="532" y="676.6">hsa-miR-4725-5p</text><text x="563" y="683.6">hsa-miR-5008-5p</text><text x="595" y="676.6">hsa-miR-6324</text>
</g>

<!-- hubs -->
<polygon points="672,97 655.5,128 688.5,128" fill="#F96868"/>
<polygon points="757,200 740.5,233 773.5,233" fill="#3DF03D"/>
<polygon points="592,222 575.5,254 608.5,254" fill="#3DF03D"/>
<polygon points="456,223 439.5,255 472.5,255" fill="#F96868"/>
<polygon points="381,268 364.5,301 397.5,301" fill="#3DF03D"/>
<polygon points="483,357 466.5,389 499.5,389" fill="#F96868"/>
<polygon points="603,377 586.5,409 619.5,409" fill="#F96868"/>
<polygon points="366,474 349.5,507 382.5,507" fill="#3DF03D"/>
<polygon points="561,568 544.5,602 577.5,602" fill="#F96868"/>

<g class="h">
<text x="669" y="119" textLength="132" lengthAdjust="spacingAndGlyphs">hsa_circ_0000245</text>
<text x="755" y="221.5" textLength="133" lengthAdjust="spacingAndGlyphs">hsa_circ_0000232</text>
<text x="590" y="242" textLength="132" lengthAdjust="spacingAndGlyphs">hsa_circ_0000077</text>
<text x="452.5" y="244" textLength="132" lengthAdjust="spacingAndGlyphs">hsa_circ_0000248</text>
<text x="378.5" y="289" textLength="133" lengthAdjust="spacingAndGlyphs">hsa_circ_0000125</text>
<text x="480" y="377" textLength="132" lengthAdjust="spacingAndGlyphs">hsa_circ_0000055</text>
<text x="601" y="397" textLength="132" lengthAdjust="spacingAndGlyphs">hsa_circ_0000175</text>
<text x="363" y="495" textLength="132" lengthAdjust="spacingAndGlyphs">hsa_circ_0000065</text>
<text x="558.5" y="590" textLength="133" lengthAdjust="spacingAndGlyphs">hsa_circ_0000254</text>
</g>

<!-- nodes drawn over hub labels -->
<g class="n"><circle cx="527" cy="238" r="7"/><circle cx="409" cy="285" r="7"/><circle cx="652" cy="390" r="7"/></g>
<g class="t"><text x="527" y="239.6">hsa-miR-4669</text><text x="409" y="286.6">hsa-miR-6814</text><text x="652" y="391.6">hsa-miR-4446</text></g>
</svg>
</body></html>
